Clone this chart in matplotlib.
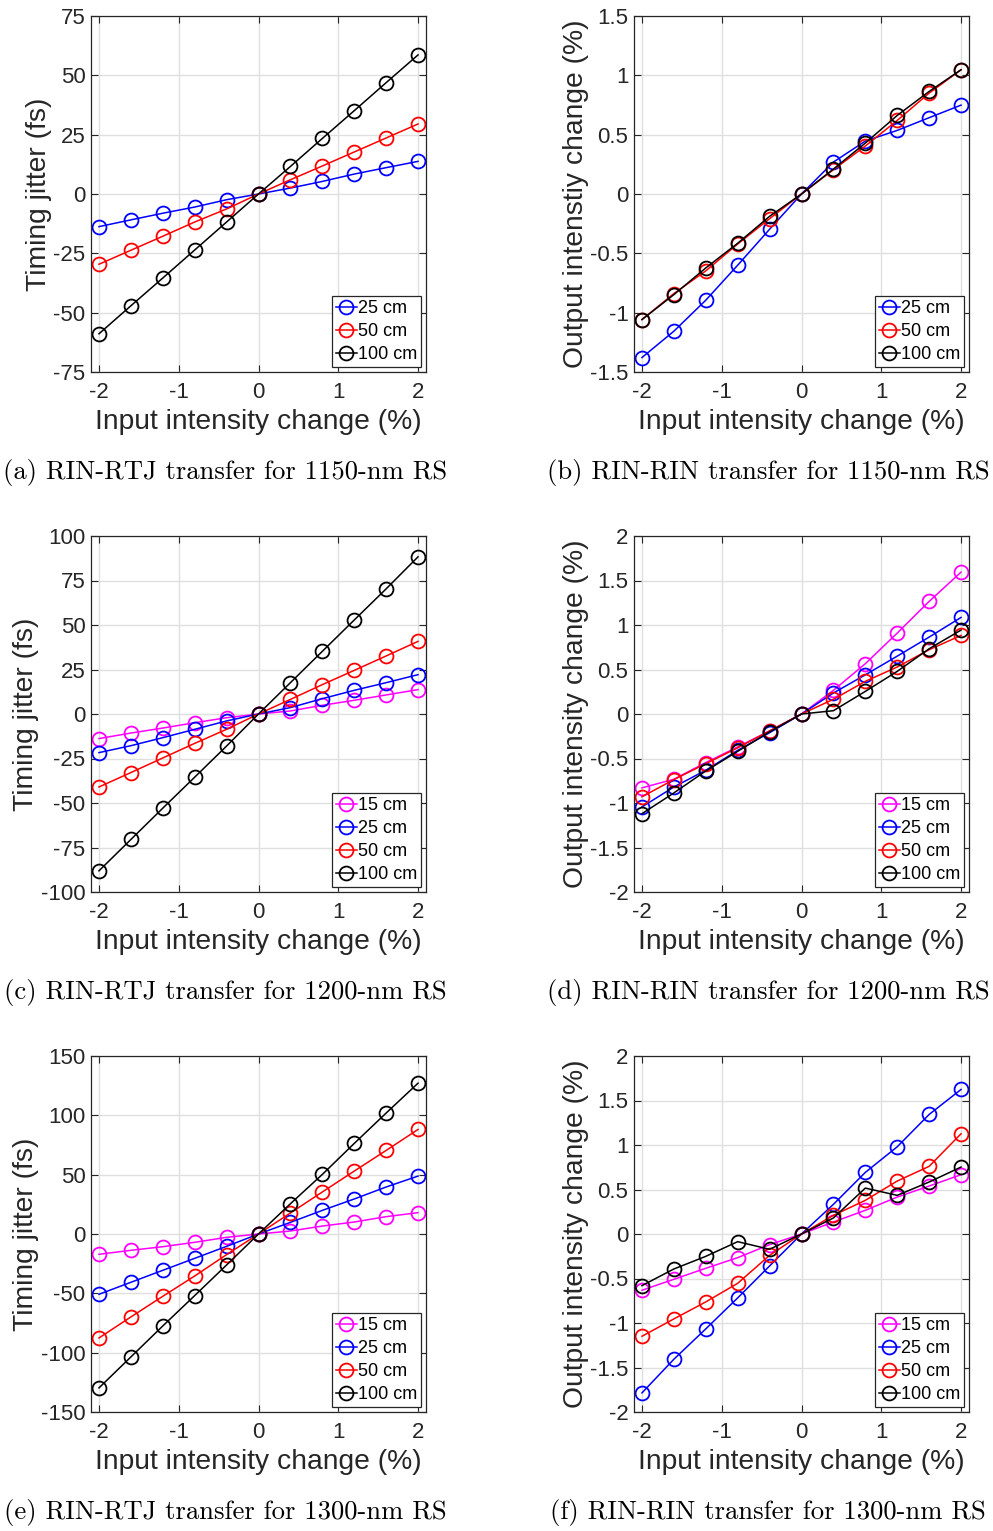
import numpy as np
import matplotlib
matplotlib.use("Agg")
import matplotlib.pyplot as plt
from matplotlib.ticker import FormatStrFormatter

plt.rcParams['font.family'] = ['Liberation Sans', 'DejaVu Sans']
plt.rcParams['axes.unicode_minus'] = False

x = [-2, -1.6, -1.2, -0.8, -0.4, 0, 0.4, 0.8, 1.2, 1.6, 2]

# (a) RIN-RTJ 1150 nm
a_25 = [-13.75, -10.9, -8.1, -5.5, -2.4, 0, 2.5, 5.3, 8.4, 11.1, 13.75]
a_50 = [-29.6, -23.7, -17.8, -11.8, -6.3, 0, 6.0, 11.8, 17.7, 23.6, 29.5]
a_100 = [-58.9, -47.1, -35.4, -23.6, -11.8, 0, 11.6, 23.4, 35.1, 46.9, 58.6]

# (b) RIN-RIN 1150 nm
b_25 = [-1.378, -1.156, -0.895, -0.60, -0.297, 0, 0.269, 0.446, 0.536, 0.643, 0.749]
b_50 = [-1.058, -0.839, -0.648, -0.421, -0.208, 0, 0.205, 0.404, 0.62, 0.85, 1.047]
b_100 = [-1.058, -0.848, -0.623, -0.415, -0.188, 0, 0.21, 0.429, 0.662, 0.864, 1.047]

# (c) RIN-RTJ 1200 nm
c_15 = [-13.8, -10.7, -7.9, -4.9, -2.1, 0, 1.7, 4.9, 7.7, 10.7, 13.7]
c_25 = [-21.7, -17.8, -13.3, -8.6, -3.9, 0, 3.6, 8.6, 13.3, 17.6, 22.1]
c_50 = [-41.0, -32.9, -24.7, -16.5, -8.6, 0, 8.2, 16.5, 24.5, 32.6, 40.8]
c_100 = [-88.1, -70.5, -52.9, -35.5, -18.0, 0, 17.6, 35.2, 52.8, 70.3, 88.3]

# (d) RIN-RIN 1200 nm
d_15 = [-0.83, -0.733, -0.546, -0.37, -0.19, 0, 0.266, 0.565, 0.909, 1.265, 1.594]
d_25 = [-1.044, -0.82, -0.632, -0.408, -0.21, 0, 0.236, 0.44, 0.65, 0.864, 1.085]
d_50 = [-0.93, -0.737, -0.558, -0.38, -0.19, 0, 0.165, 0.367, 0.528, 0.722, 0.883]
d_100 = [-1.12, -0.887, -0.64, -0.42, -0.20, 0, 0.037, 0.254, 0.479, 0.733, 0.943]

# (e) RIN-RTJ 1300 nm
e_15 = [-17.1, -13.75, -10.7, -7.0, -2.8, 0, 2.5, 6.7, 10.1, 14.6, 18.0]
e_25 = [-50.8, -40.7, -30.6, -20.5, -10.4, 0, 9.8, 19.9, 29.5, 39.6, 48.8]
e_50 = [-87.6, -69.9, -52.5, -35.4, -17.4, 0, 17.7, 35.4, 53.0, 70.4, 88.1]
e_100 = [-129.7, -103.6, -77.5, -51.9, -26.1, 0, 25.5, 50.2, 76.3, 101.9, 127.1]

# (f) RIN-RIN 1300 nm
f_15 = [-0.632, -0.509, -0.385, -0.266, -0.12, 0, 0.135, 0.266, 0.415, 0.539, 0.666]
f_25 = [-1.785, -1.407, -1.066, -0.718, -0.359, 0, 0.333, 0.692, 0.98, 1.343, 1.624]
f_50 = [-1.149, -0.954, -0.763, -0.554, -0.24, 0, 0.21, 0.378, 0.595, 0.76, 1.126]
f_100 = [-0.58, -0.393, -0.251, -0.086, -0.172, 0, 0.18, 0.516, 0.434, 0.584, 0.752]

colors = {"15 cm": "#ff00ff", "25 cm": "#0000ff", "50 cm": "#ff0000", "100 cm": "#000000"}
dark = "#262626"

panels = [
    ("(a) RIN-RTJ transfer for 1150-nm RS", "Timing jitter (fs)",
     {"25 cm": a_25, "50 cm": a_50, "100 cm": a_100}, (-75, 75), np.arange(-75, 76, 25)),
    ("(b) RIN-RIN transfer for 1150-nm RS", "Output intenstiy change (%)",
     {"25 cm": b_25, "50 cm": b_50, "100 cm": b_100}, (-1.5, 1.5), np.arange(-1.5, 1.51, 0.5)),
    ("(c) RIN-RTJ transfer for 1200-nm RS", "Timing jitter (fs)",
     {"15 cm": c_15, "25 cm": c_25, "50 cm": c_50, "100 cm": c_100}, (-100, 100), np.arange(-100, 101, 25)),
    ("(d) RIN-RIN transfer for 1200-nm RS", "Output intensity change (%)",
     {"15 cm": d_15, "25 cm": d_25, "50 cm": d_50, "100 cm": d_100}, (-2, 2), np.arange(-2, 2.01, 0.5)),
    ("(e) RIN-RTJ transfer for 1300-nm RS", "Timing jitter (fs)",
     {"15 cm": e_15, "25 cm": e_25, "50 cm": e_50, "100 cm": e_100}, (-150, 150), np.arange(-150, 151, 50)),
    ("(f) RIN-RIN transfer for 1300-nm RS", "Output intensity change (%)",
     {"15 cm": f_15, "25 cm": f_25, "50 cm": f_50, "100 cm": f_100}, (-2, 2), np.arange(-2, 2.01, 0.5)),
]

W, H = 993, 1531
fig = plt.figure(figsize=(W / 100, H / 100), dpi=100)

lefts = [91, 634]
tops = [16, 536, 1056]
cap_y = [473, 993, 1513]
cap_x = [225, 768]
aw, ah = 335, 356

for i, (caption, ylab, series, ylim, yticks) in enumerate(panels):
    r, c = divmod(i, 2)
    ax = fig.add_axes([lefts[c] / W, (H - tops[r] - ah) / H, aw / W, ah / H])
    for name, vals in series.items():
        ax.plot(x, vals, color=colors[name], lw=1.1, marker="o", ms=10,
                mfc="none", mew=1.3, label=name)
    ax.set_xlim(-2.1, 2.1)
    ax.set_ylim(*ylim)
    ax.set_xticks([-2, -1, 0, 1, 2])
    ax.set_yticks(yticks)
    ax.yaxis.set_major_formatter(FormatStrFormatter("%g"))
    ax.grid(True, color="#dfdfdf", lw=1.0)
    ax.set_axisbelow(True)
    ax.tick_params(direction="in", length=5, width=0.8, colors=dark,
                   labelsize=16, top=True, right=True, pad=4)
    ax.tick_params(axis="x", pad=7.5)
    for s in ax.spines.values():
        s.set_color(dark)
        s.set_linewidth(0.9)
    ax.set_xlabel("Input intensity change (%)", fontsize=20.3, color=dark, labelpad=4)
    ax.set_ylabel(ylab, fontsize=20.3, color=dark, labelpad=1)
    leg = ax.legend(loc="lower right", fontsize=13, handlelength=1.15, handletextpad=0.05,
                    borderpad=0.2, labelspacing=0.33, borderaxespad=0.3,
                    fancybox=False, framealpha=1, edgecolor=dark)
    leg.get_frame().set_linewidth(0.9)
    fig.text(cap_x[c] / W, 1 - cap_y[r] / H, caption, family="cmr10",
             fontsize=19.2, ha="center", va="center")

fig.savefig("out.png", dpi=100)
